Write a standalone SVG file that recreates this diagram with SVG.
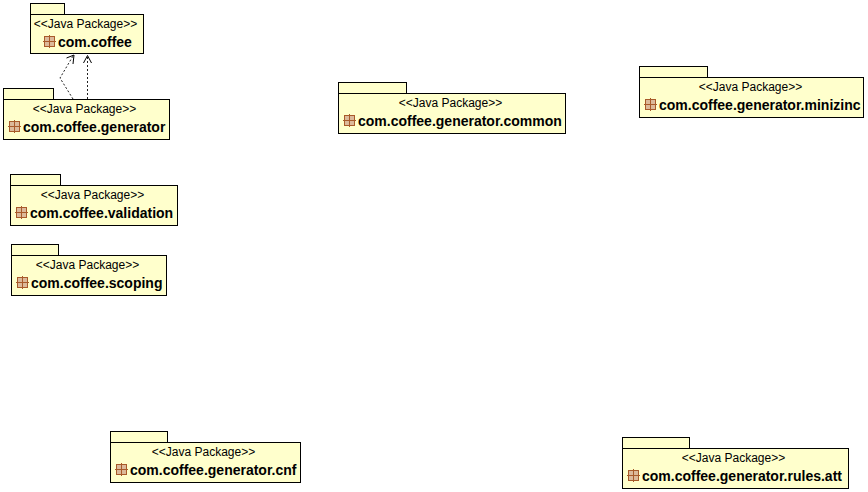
<svg xmlns="http://www.w3.org/2000/svg" width="868" height="492" viewBox="0 0 868 492">
<style>
.b{fill:#ffffcc;stroke:#000;stroke-width:1}
.s{font:12px "Liberation Sans",Arial,sans-serif;fill:#000;text-anchor:middle}
.n{font:bold 14px "Liberation Sans",Arial,sans-serif;fill:#000}
.c{fill:none;stroke:#222;stroke-width:1;stroke-dasharray:2 2}
.h{fill:none;stroke:#000;stroke-width:1}
.i{fill:#dcb99a;stroke:#a85a2a;stroke-width:1}
.l{stroke:#a85a2a;stroke-width:1}
</style>
<defs>
<g id="ic"><rect class="i" x="0.5" y="0.5" width="10" height="10"/><path class="l" d="M5.500 -1V12M-1 5.500H12"/></g>
</defs>
<rect width="868" height="492" fill="#fff"/>
<g id="connectors">
<path class="c" d="M73 99L60 78L73 56"/>
<path class="h" d="M66.500 58L74 55L73 64"/>
<path class="c" d="M87.500 99V56"/>
<path class="h" d="M83.500 63L87.500 55.500L91.500 63"/>
</g>
<g id="n1"><rect class="b" x="30.500" y="3.500" width="34" height="11"/><rect class="b" x="30.500" y="14.500" width="113" height="39"/><text class="s" x="85.500" y="28">&lt;&lt;Java Package&gt;&gt;</text><use href="#ic" x="44" y="36"/><text class="n" x="58" y="47">com.coffee</text></g>
<g id="n2"><rect class="b" x="3.500" y="88.500" width="50" height="11"/><rect class="b" x="3.500" y="99.500" width="166" height="40"/><text class="s" x="84.500" y="113">&lt;&lt;Java Package&gt;&gt;</text><use href="#ic" x="9" y="121"/><text class="n" x="23" y="132">com.coffee.generator</text></g>
<g id="n3"><rect class="b" x="338.500" y="82.500" width="68" height="11"/><rect class="b" x="338.500" y="93.500" width="227" height="40"/><text class="s" x="450.500" y="107">&lt;&lt;Java Package&gt;&gt;</text><use href="#ic" x="344" y="115"/><text class="n" x="358" y="126">com.coffee.generator.common</text></g>
<g id="n4"><rect class="b" x="639.500" y="66.500" width="68" height="11"/><rect class="b" x="639.500" y="77.500" width="224" height="40"/><text class="s" x="750.500" y="91">&lt;&lt;Java Package&gt;&gt;</text><use href="#ic" x="645" y="99"/><text class="n" x="659" y="110">com.coffee.generator.minizinc</text></g>
<g id="n5"><rect class="b" x="10.500" y="174.500" width="50" height="11"/><rect class="b" x="10.500" y="185.500" width="167" height="40"/><text class="s" x="92.500" y="199">&lt;&lt;Java Package&gt;&gt;</text><use href="#ic" x="16" y="207"/><text class="n" x="30" y="218">com.coffee.validation</text></g>
<g id="n6"><rect class="b" x="11.500" y="244.500" width="47" height="11"/><rect class="b" x="11.500" y="255.500" width="155" height="40"/><text class="s" x="87.500" y="269">&lt;&lt;Java Package&gt;&gt;</text><use href="#ic" x="17" y="277"/><text class="n" x="31" y="288">com.coffee.scoping</text></g>
<g id="n7"><rect class="b" x="110.500" y="431.500" width="57" height="11"/><rect class="b" x="110.500" y="442.500" width="190" height="40"/><text class="s" x="203.500" y="456">&lt;&lt;Java Package&gt;&gt;</text><use href="#ic" x="116" y="464"/><text class="n" x="130" y="475">com.coffee.generator.cnf</text></g>
<g id="n8"><rect class="b" x="622.500" y="437.500" width="67" height="11"/><rect class="b" x="622.500" y="448.500" width="226" height="40"/><text class="s" x="733.500" y="462">&lt;&lt;Java Package&gt;&gt;</text><use href="#ic" x="628" y="470"/><text class="n" x="642" y="481">com.coffee.generator.rules.att</text></g>
</svg>
